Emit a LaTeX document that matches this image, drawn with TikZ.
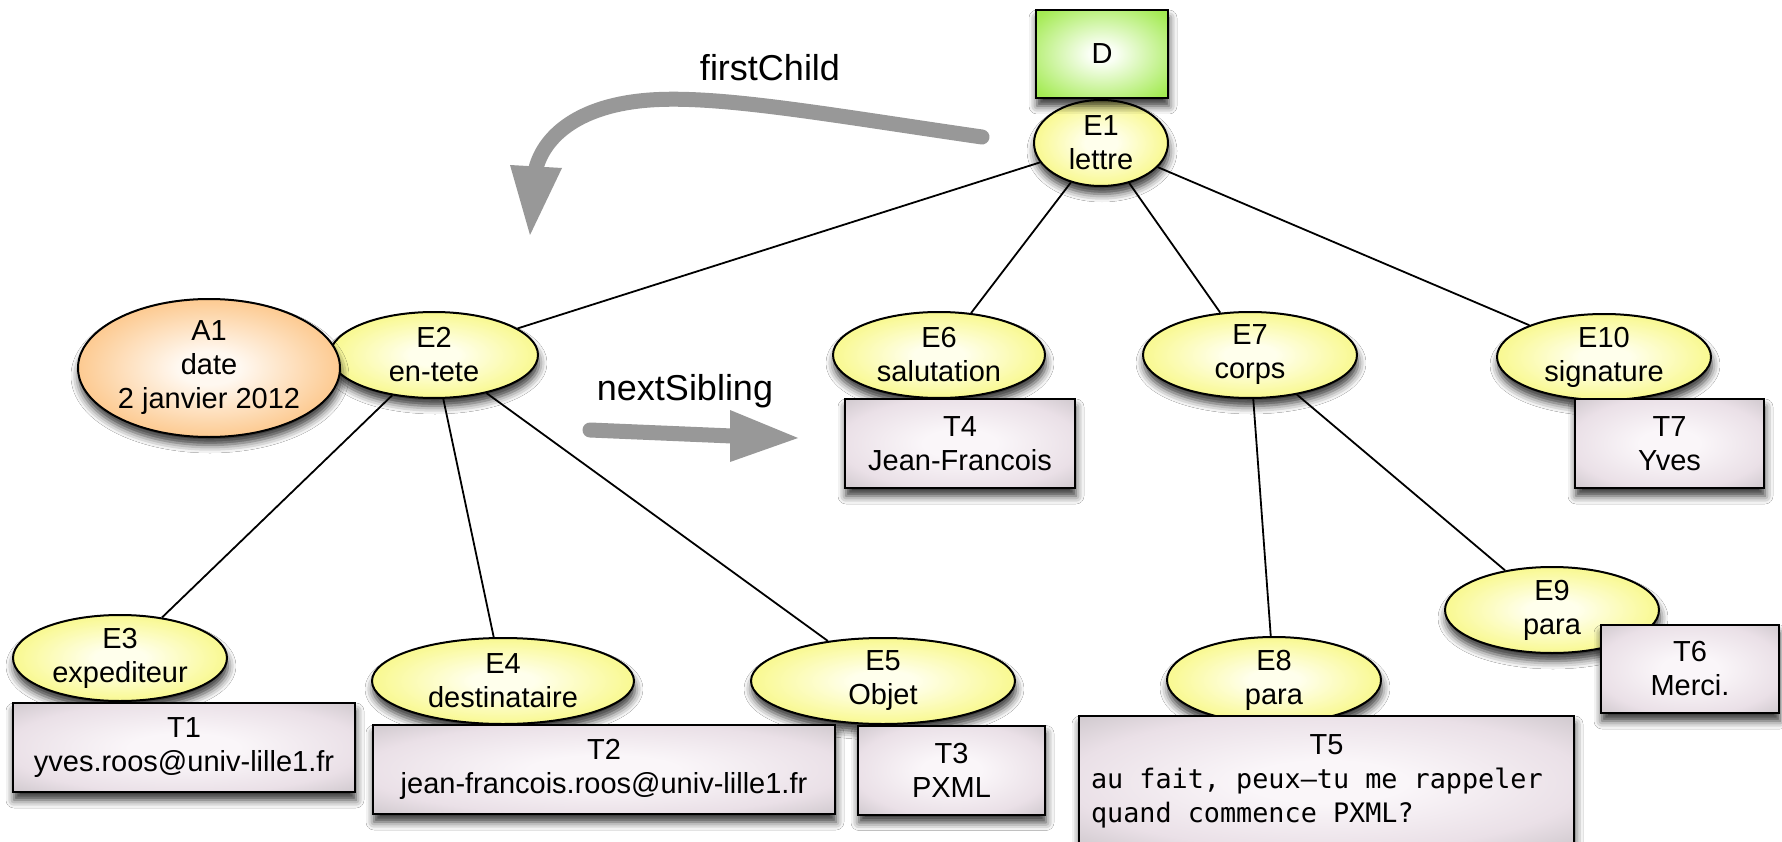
\documentclass[tikz,border=0pt]{standalone}
\usepackage{fontspec}
\setmainfont{Liberation Sans}
\newfontfamily\monofont[WordSpace={1,0,0}]{DejaVu Sans Mono}
\usetikzlibrary{shapes.geometric,shadows.blur}
\definecolor{yinner}{RGB}{255,255,236}
\definecolor{ymid}{RGB}{247,247,120}
\definecolor{yedge}{RGB}{198,194,142}
\definecolor{oinner}{RGB}{255,248,240}
\definecolor{omid}{RGB}{252,190,120}
\definecolor{oedge}{RGB}{208,184,162}
\definecolor{ginner}{RGB}{250,255,245}
\definecolor{gmid}{RGB}{165,235,85}
\definecolor{gedge}{RGB}{135,222,45}
\definecolor{tinner}{RGB}{250,246,249}
\definecolor{tmid}{RGB}{234,224,231}
\definecolor{tedge}{RGB}{168,166,168}
\definecolor{arrowgray}{RGB}{152,152,152}
\pgfdeclareradialshading{yelshade}{\pgfpoint{0bp}{0bp}}{color(0bp)=(yinner); color(6bp)=(yinner); color(30bp)=(ymid); color(50bp)=(yedge)}
\pgfdeclareradialshading{orshade}{\pgfpoint{0bp}{0bp}}{color(0bp)=(oinner); color(6bp)=(oinner); color(30bp)=(omid); color(50bp)=(oedge)}
\pgfdeclareradialshading{grshade}{\pgfpoint{0bp}{0bp}}{color(0bp)=(ginner); color(5bp)=(ginner); color(32bp)=(gmid); color(50bp)=(gedge)}
\pgfdeclareradialshading{txshade}{\pgfpoint{0bp}{0bp}}{color(0bp)=(tinner); color(8bp)=(tinner); color(26bp)=(tmid); color(50bp)=(tedge)}
\newcommand\myNodeFont{\fontsize{29pt}{34pt}\selectfont}
\newcommand\myLabelFont{\fontsize{36pt}{40pt}\selectfont}
\newcommand\myMono{\monofont\fontsize{26.8pt}{33pt}\selectfont\spaceskip=0pt\xspaceskip=0pt\relax}
\pgfdeclarelayer{bg}
\pgfsetlayers{bg,main}
\tikzset{
  softshadow/.style={blur shadow={shadow xshift=1pt, shadow yshift=-8pt, shadow blur radius=8pt, shadow opacity=80}},
  elem/.style={ellipse, draw=black, line width=2pt, minimum width=214pt, minimum height=86pt,
    inner xsep=-30pt, inner ysep=-14pt, shade, shading=yelshade, align=center, font=\myNodeFont, softshadow},
  attr/.style={elem, shading=orshade},
  docbox/.style={rectangle, draw=black, line width=2pt, minimum width=132pt, minimum height=88pt,
    inner sep=0pt, shade, shading=grshade, font=\myNodeFont, softshadow},
  txtbox/.style={rectangle, draw=black, line width=2pt, minimum height=89pt,
    inner sep=0pt, shade, shading=txshade, align=center, font=\myNodeFont, softshadow},
  edge/.style={draw=black, line width=1.8pt},
  lbl/.style={font=\myLabelFont, inner sep=0pt},
  fat/.style={draw=arrowgray, line width=15pt, line cap=round},
  head/.style={fill=arrowgray, draw=none}
}
\begin{document}
\begin{tikzpicture}[x=1pt, y=-1pt]
\useasboundingbox (0,0) rectangle (1782,842);

% element nodes
\node[elem, minimum width=134pt] (e1) at (1101,143) {E1\\lettre};
\node[docbox] (d) at (1102,54) {D};
\node[elem, minimum width=208pt] (e2) at (434,355) {E2\\en-tete};
\node[attr, minimum width=262pt, minimum height=138pt] (a1) at (209,368) {A1\\date\\2 janvier 2012};
\node[elem, minimum width=212pt] (e6) at (939,355) {E6\\salutation};
\node[elem] (e7) at (1250,355) {E7\\corps};
\node[elem] (e10) at (1604,357) {E10\\signature};
\node[elem] (e3) at (120,658) {E3\\expediteur};
\node[elem, minimum width=262pt] (e4) at (503,681) {E4\\destinataire};
\node[elem, minimum width=264pt] (e5) at (883,681) {E5\\Objet};
\node[elem] (e8) at (1274,680) {E8\\para};
\node[elem] (e9) at (1552,610) {E9\\para};

% text nodes
\node[txtbox, minimum width=342pt] (t1) at (184,747.5) {T1\\yves.roos@univ-lille1.fr};
\node[txtbox, minimum width=462pt] (t2) at (604,769.5) {T2\\jean-francois.roos@univ-lille1.fr};
\node[txtbox, minimum width=187pt] (t3) at (951.5,770) {T3\\PXML};
\node[txtbox, minimum width=230pt] (t4) at (960,443.5) {T4\\Jean-Francois};
\node[txtbox, minimum width=189pt] (t7) at (1669.5,443.5) {T7\\Yves};
\node[txtbox, minimum width=178pt, minimum height=88pt] (t6) at (1690,669) {T6\\Merci.};
\node[txtbox, anchor=north west, minimum height=0pt, text width=471pt, align=left,
      inner xsep=12pt, inner ysep=19pt] (t5) at (1078,715)
  {\makebox[471pt]{T5}\\{\myMono au fait, peux–tu me rappeler}\\{\myMono quand commence PXML?}};

% tree edges
\begin{pgfonlayer}{bg}
\fill[white] (0,0) rectangle (1782,842);
\draw[edge] (e1) -- (e2);
\draw[edge] (e1) -- (e6);
\draw[edge] (e1) -- (e7);
\draw[edge] (e1) -- (e10);
\draw[edge] (e2) -- (e3);
\draw[edge] (e2) -- (e4);
\draw[edge] (e2) -- (e5);
\draw[edge] (e7) -- (e8);
\draw[edge] (e7) -- (e9);
\end{pgfonlayer}

% firstChild arrow
\node[lbl] (fclabel) at (770,68) {firstChild};
\coordinate (fcs) at (982,137);
\coordinate (fcb) at (536,168);
\coordinate (fcl) at (510,165);
\coordinate (fcr) at (562,168);
\coordinate (fct) at (530,235);
\draw[fat] (fcs) .. controls (830,115) and (720,95) .. (650,100) .. controls (580,105) and (545,135) .. (fcb);
\fill[head] (fcl) -- (fcr) -- (fct) -- cycle;

% nextSibling arrow
\node[lbl] (nslabel) at (685,391) {nextSibling};
\coordinate (nss) at (590,430);
\coordinate (nsb) at (732,436);
\coordinate (nsu) at (730,410);
\coordinate (nsd) at (730,462);
\coordinate (nst) at (798,438);
\draw[fat] (nss) -- (nsb);
\fill[head] (nsu) -- (nst) -- (nsd) -- cycle;
\end{tikzpicture}
\end{document}
